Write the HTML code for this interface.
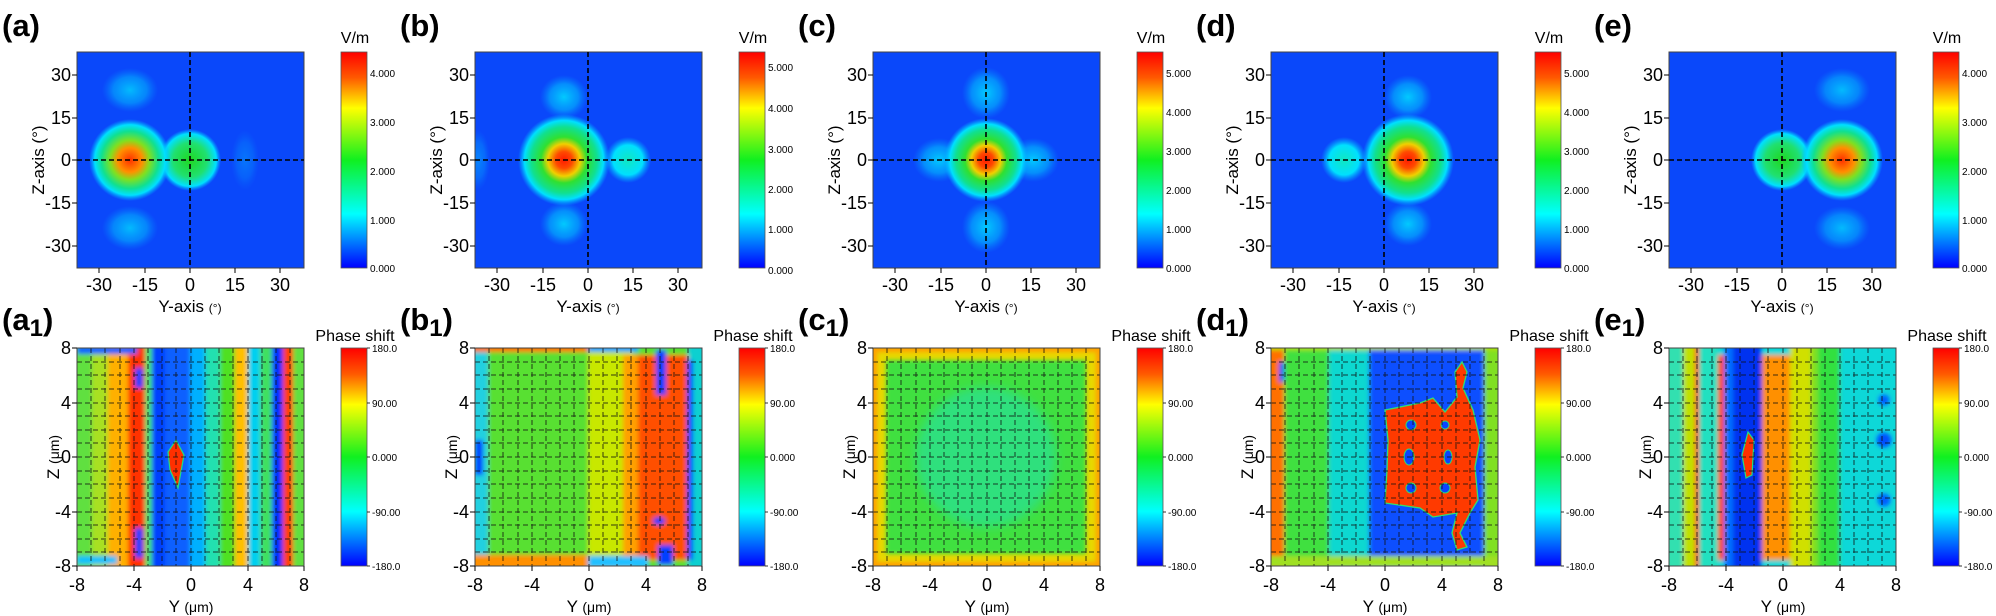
<!DOCTYPE html>
<html><head><meta charset="utf-8"><style>
html,body{margin:0;padding:0;background:#fff}
svg{display:block}
text{font-family:"Liberation Sans",Arial,sans-serif;fill:#000}
</style></head><body>
<svg width="1996" height="616" viewBox="0 0 1996 616" xmlns="http://www.w3.org/2000/svg">
<defs>
<linearGradient id="jet" x1="0" y1="0" x2="0" y2="1">
<stop offset="0" stop-color="#ff0000"/><stop offset=".12" stop-color="#ff5a00"/><stop offset=".26" stop-color="#ffff00"/><stop offset=".5" stop-color="#10f020"/><stop offset=".75" stop-color="#00ffff"/><stop offset="1" stop-color="#0000ff"/>
</linearGradient>
<radialGradient id="hot"><stop offset="0" stop-color="#ff1a00"/><stop offset=".18" stop-color="#ff4a00"/><stop offset=".35" stop-color="#f0d000"/><stop offset=".5" stop-color="#30e030"/><stop offset=".72" stop-color="#10e090"/><stop offset=".86" stop-color="#00e0ff"/><stop offset="1" stop-color="#00b0ff" stop-opacity="0"/></radialGradient>
<radialGradient id="hot2"><stop offset="0" stop-color="#ff3000"/><stop offset=".3" stop-color="#ff9000"/><stop offset=".48" stop-color="#80e020"/><stop offset=".7" stop-color="#10e090"/><stop offset=".86" stop-color="#00e0ff"/><stop offset="1" stop-color="#00b0ff" stop-opacity="0"/></radialGradient>
<radialGradient id="grn"><stop offset="0" stop-color="#20d820"/><stop offset=".55" stop-color="#20e070"/><stop offset=".85" stop-color="#00e0ff"/><stop offset="1" stop-color="#00b0ff" stop-opacity="0"/></radialGradient>
<radialGradient id="cyn"><stop offset="0" stop-color="#00e8ff" stop-opacity=".95"/><stop offset=".6" stop-color="#00d0ff" stop-opacity=".6"/><stop offset="1" stop-color="#00a0ff" stop-opacity="0"/></radialGradient>
<radialGradient id="cyn2"><stop offset="0" stop-color="#10e8c0"/><stop offset=".65" stop-color="#00e0ff"/><stop offset="1" stop-color="#00b0ff" stop-opacity="0"/></radialGradient>
<clipPath id="ct"><rect x="77" y="52" width="227" height="216"/></clipPath>
<clipPath id="cb"><rect x="77" y="348" width="227" height="218"/></clipPath>
<filter id="bl" x="-10%" y="-10%" width="120%" height="120%"><feGaussianBlur stdDeviation="2.2"/></filter>
<filter id="bl2" x="-20%" y="-20%" width="140%" height="140%"><feGaussianBlur stdDeviation="5"/></filter>

<g id="topax">
<rect x="77" y="52" width="227" height="216" fill="none" stroke="#444" stroke-width="1"/>
<line x1="190" y1="52" x2="190" y2="268" stroke="#000" stroke-width="1.6" stroke-dasharray="5,3"/>
<line x1="77" y1="160" x2="304" y2="160" stroke="#000" stroke-width="1.6" stroke-dasharray="5,3"/>
<g stroke="#000" stroke-width="1">
<line x1="99" y1="268" x2="99" y2="273"/><line x1="145" y1="268" x2="145" y2="273"/><line x1="190" y1="268" x2="190" y2="273"/><line x1="235" y1="268" x2="235" y2="273"/><line x1="280" y1="268" x2="280" y2="273"/>
<line x1="77" y1="75" x2="72" y2="75"/><line x1="77" y1="118" x2="72" y2="118"/><line x1="77" y1="160" x2="72" y2="160"/><line x1="77" y1="203" x2="72" y2="203"/><line x1="77" y1="246" x2="72" y2="246"/>
</g>
<g font-size="18" text-anchor="middle">
<text x="99" y="291">-30</text><text x="145" y="291">-15</text><text x="190" y="291">0</text><text x="235" y="291">15</text><text x="280" y="291">30</text>
</g>
<g font-size="18" text-anchor="end">
<text x="71" y="81">30</text><text x="71" y="124">15</text><text x="71" y="166">0</text><text x="71" y="209">-15</text><text x="71" y="252">-30</text>
</g>
<text x="190" y="312" font-size="17" text-anchor="middle">Y-axis <tspan font-size="12">(°)</tspan></text>
<text transform="translate(44,160) rotate(-90)" font-size="17" text-anchor="middle">Z-axis (°)</text>
<rect x="341" y="52" width="26" height="216" fill="url(#jet)" stroke="#555" stroke-width=".8"/>
<text x="355" y="43" font-size="16" text-anchor="middle">V/m</text>
</g>

<g id="grid">
<g stroke="#111" stroke-width="1" stroke-dasharray="5,3" opacity=".8">
<line x1="91" y1="348" x2="91" y2="566"/><line x1="105" y1="348" x2="105" y2="566"/><line x1="120" y1="348" x2="120" y2="566"/><line x1="134" y1="348" x2="134" y2="566"/><line x1="148" y1="348" x2="148" y2="566"/><line x1="162" y1="348" x2="162" y2="566"/><line x1="176" y1="348" x2="176" y2="566"/><line x1="191" y1="348" x2="191" y2="566"/><line x1="205" y1="348" x2="205" y2="566"/><line x1="219" y1="348" x2="219" y2="566"/><line x1="233" y1="348" x2="233" y2="566"/><line x1="248" y1="348" x2="248" y2="566"/><line x1="262" y1="348" x2="262" y2="566"/><line x1="276" y1="348" x2="276" y2="566"/><line x1="290" y1="348" x2="290" y2="566"/>
<line x1="77" y1="362" x2="304" y2="362"/><line x1="77" y1="375" x2="304" y2="375"/><line x1="77" y1="389" x2="304" y2="389"/><line x1="77" y1="403" x2="304" y2="403"/><line x1="77" y1="416" x2="304" y2="416"/><line x1="77" y1="430" x2="304" y2="430"/><line x1="77" y1="443" x2="304" y2="443"/><line x1="77" y1="457" x2="304" y2="457"/><line x1="77" y1="471" x2="304" y2="471"/><line x1="77" y1="484" x2="304" y2="484"/><line x1="77" y1="498" x2="304" y2="498"/><line x1="77" y1="512" x2="304" y2="512"/><line x1="77" y1="525" x2="304" y2="525"/><line x1="77" y1="539" x2="304" y2="539"/><line x1="77" y1="552" x2="304" y2="552"/>
</g>
<rect x="77" y="348" width="227" height="218" fill="none" stroke="#444" stroke-width="1"/>
<g stroke="#000" stroke-width="1">
<line x1="77" y1="566" x2="77" y2="571"/><line x1="134" y1="566" x2="134" y2="571"/><line x1="191" y1="566" x2="191" y2="571"/><line x1="248" y1="566" x2="248" y2="571"/><line x1="304" y1="566" x2="304" y2="571"/>
<line x1="77" y1="348" x2="72" y2="348"/><line x1="77" y1="403" x2="72" y2="403"/><line x1="77" y1="457" x2="72" y2="457"/><line x1="77" y1="512" x2="72" y2="512"/><line x1="77" y1="566" x2="72" y2="566"/>
</g>
<g font-size="18" text-anchor="middle">
<text x="77" y="591">-8</text><text x="134" y="591">-4</text><text x="191" y="591">0</text><text x="248" y="591">4</text><text x="304" y="591">8</text>
</g>
<g font-size="18" text-anchor="end">
<text x="71" y="354">8</text><text x="71" y="409">4</text><text x="71" y="463">0</text><text x="71" y="518">-4</text><text x="71" y="572">-8</text>
</g>
<text x="191" y="612" font-size="17" text-anchor="middle">Y <tspan font-size="14">(μm)</tspan></text>
<text transform="translate(59,457) rotate(-90)" font-size="17" text-anchor="middle">Z <tspan font-size="14">(μm)</tspan></text>
<rect x="341" y="348" width="26" height="218" fill="url(#jet)" stroke="#555" stroke-width=".8"/>
<text x="355" y="341" font-size="16" text-anchor="middle">Phase shift</text>
<g stroke="#000" stroke-width=".8"><line x1="367" y1="348" x2="370" y2="348"/><line x1="367" y1="403" x2="370" y2="403"/><line x1="367" y1="457" x2="370" y2="457"/><line x1="367" y1="512" x2="370" y2="512"/><line x1="367" y1="566" x2="370" y2="566"/></g>
<g font-size="10"><text x="372" y="352">180.0</text><text x="372" y="407">90.00</text><text x="372" y="461">0.000</text><text x="372" y="516">-90.00</text><text x="372" y="570">-180.0</text></g>
</g>
</defs>

<!-- ========== PANEL A ========== -->
<g>
<text x="2" y="36" font-size="31" font-weight="bold">(a)</text>
<g clip-path="url(#ct)"><rect x="77" y="52" width="227" height="216" fill="#0a48fa"/>
<ellipse cx="130" cy="90" rx="28" ry="22" fill="url(#cyn)" opacity=".75"/><ellipse cx="130" cy="228" rx="28" ry="22" fill="url(#cyn)" opacity=".75"/>
<ellipse cx="245" cy="160" rx="14" ry="30" fill="url(#cyn)" opacity=".3"/>
<circle cx="190" cy="160" r="31" fill="url(#grn)"/>
<circle cx="130" cy="160" r="41" fill="url(#hot2)"/></g>
<use href="#topax"/>
<g font-size="10"><text x="370" y="77">4.000</text><text x="370" y="126">3.000</text><text x="370" y="175">2.000</text><text x="370" y="224">1.000</text><text x="370" y="272">0.000</text></g>
<text x="2" y="330" font-size="31" font-weight="bold">(a<tspan font-size="24" dy="6">1</tspan><tspan dy="-6">)</tspan></text>
<g clip-path="url(#cb)"><g filter="url(#bl)">
<rect x="70" y="340" width="240" height="235" fill="#60e040"/>
<rect x="92" y="340" width="16" height="235" fill="#a8e020"/><rect x="108" y="340" width="20" height="235" fill="#ffb000"/><rect x="128" y="340" width="17" height="235" fill="#ff3000"/><rect x="145" y="340" width="7" height="235" fill="#40e070"/><rect x="152" y="340" width="13" height="235" fill="#0040ff"/><rect x="165" y="340" width="25" height="235" fill="#0a60ff"/><rect x="190" y="340" width="15" height="235" fill="#00b0ff"/><rect x="205" y="340" width="15" height="235" fill="#20e0b0"/><rect x="220" y="340" width="15" height="235" fill="#50e020"/><rect x="235" y="340" width="13" height="235" fill="#ffc000"/><rect x="248" y="340" width="12" height="235" fill="#00d0f0"/><rect x="260" y="340" width="12" height="235" fill="#40e060"/><rect x="272" y="340" width="11" height="235" fill="#0030ff"/><rect x="283" y="340" width="10" height="235" fill="#ff4000"/>
<rect x="135" y="368" width="8" height="20" fill="#0040ff"/><rect x="135" y="528" width="8" height="30" fill="#0040ff"/>
<rect x="77" y="346" width="60" height="8" fill="#0060ff"/><rect x="77" y="556" width="40" height="8" fill="#00c0ff"/></g>
<polygon points="176,440 184,455 178,488 170,470 168,452" fill="#ff3000" stroke="#20e080" stroke-width="1.2"/></g>
<use href="#grid"/>
</g>

<!-- ========== PANEL B ========== -->
<g transform="translate(398,0)">
<text x="2" y="36" font-size="31" font-weight="bold">(b)</text>
<g clip-path="url(#ct)"><rect x="77" y="52" width="227" height="216" fill="#0a48fa"/>
<ellipse cx="166" cy="97" rx="24" ry="22" fill="url(#cyn)" opacity=".85"/><ellipse cx="166" cy="224" rx="24" ry="22" fill="url(#cyn)" opacity=".85"/>
<ellipse cx="80" cy="160" rx="12" ry="30" fill="url(#cyn)" opacity=".4"/>
<circle cx="230" cy="160" r="23" fill="url(#cyn2)"/>
<circle cx="166" cy="160" r="46" fill="url(#hot)"/></g>
<use href="#topax"/>
<g font-size="10"><text x="370" y="71">5.000</text><text x="370" y="112">4.000</text><text x="370" y="153">3.000</text><text x="370" y="193">2.000</text><text x="370" y="233">1.000</text><text x="370" y="274">0.000</text></g>
<text x="2" y="330" font-size="31" font-weight="bold">(b<tspan font-size="24" dy="6">1</tspan><tspan dy="-6">)</tspan></text>
<g clip-path="url(#cb)"><g filter="url(#bl)">
<rect x="70" y="340" width="240" height="235" fill="#58e030"/>
<rect x="70" y="340" width="20" height="235" fill="#20d0e0"/><rect x="77" y="440" width="8" height="35" fill="#0040ff"/>
<rect x="190" y="340" width="45" height="235" fill="#c8e800"/><rect x="225" y="355" width="15" height="210" fill="#ffa000"/>
<rect x="240" y="355" width="52" height="205" fill="#ff5000"/><rect x="290" y="340" width="20" height="235" fill="#10d0d0"/><rect x="289" y="360" width="6" height="200" fill="#0040ff"/>
<rect x="70" y="340" width="120" height="12" fill="#ff7000"/><rect x="70" y="555" width="120" height="15" fill="#ff9000"/>
<rect x="190" y="340" width="50" height="12" fill="#00a0ff"/><rect x="190" y="556" width="60" height="12" fill="#20c0ff"/>
<rect x="258" y="350" width="10" height="45" fill="#0040ff"/><ellipse cx="261" cy="521" rx="6" ry="4" fill="#0040ff"/><rect x="260" y="545" width="15" height="20" fill="#0040ff"/></g></g>
<use href="#grid"/>
</g>

<!-- ========== PANEL C ========== -->
<g transform="translate(796,0)">
<text x="2" y="36" font-size="31" font-weight="bold">(c)</text>
<g clip-path="url(#ct)"><rect x="77" y="52" width="227" height="216" fill="#0a48fa"/>
<ellipse cx="190" cy="93" rx="24" ry="26" fill="url(#cyn)" opacity=".85"/><ellipse cx="190" cy="227" rx="24" ry="26" fill="url(#cyn)" opacity=".85"/>
<ellipse cx="143" cy="160" rx="26" ry="22" fill="url(#cyn)" opacity=".85"/><ellipse cx="237" cy="160" rx="26" ry="22" fill="url(#cyn)" opacity=".85"/>
<circle cx="190" cy="160" r="42" fill="url(#hot)"/></g>
<use href="#topax"/>
<g font-size="10"><text x="370" y="77">5.000</text><text x="370" y="116">4.000</text><text x="370" y="155">3.000</text><text x="370" y="194">2.000</text><text x="370" y="233">1.000</text><text x="370" y="272">0.000</text></g>
<text x="2" y="330" font-size="31" font-weight="bold">(c<tspan font-size="24" dy="6">1</tspan><tspan dy="-6">)</tspan></text>
<g clip-path="url(#cb)">
<rect x="70" y="340" width="240" height="235" fill="#e8d800"/>
<rect x="77" y="348" width="227" height="218" fill="none" stroke="#ffa000" stroke-width="8" filter="url(#bl)"/>
<rect x="90" y="360" width="200" height="194" fill="#40e040" filter="url(#bl)"/>
<ellipse cx="190" cy="457" rx="70" ry="70" fill="#20e0b0" opacity=".55" filter="url(#bl2)"/></g>
<use href="#grid"/>
</g>

<!-- ========== PANEL D ========== -->
<g transform="translate(1194,0)">
<text x="2" y="36" font-size="31" font-weight="bold">(d)</text>
<g clip-path="url(#ct)"><rect x="77" y="52" width="227" height="216" fill="#0a48fa"/>
<ellipse cx="214" cy="97" rx="24" ry="22" fill="url(#cyn)" opacity=".85"/><ellipse cx="214" cy="224" rx="24" ry="22" fill="url(#cyn)" opacity=".85"/>
<circle cx="150" cy="160" r="23" fill="url(#cyn2)"/>
<circle cx="214" cy="160" r="46" fill="url(#hot)"/></g>
<use href="#topax"/>
<g font-size="10"><text x="370" y="77">5.000</text><text x="370" y="116">4.000</text><text x="370" y="155">3.000</text><text x="370" y="194">2.000</text><text x="370" y="233">1.000</text><text x="370" y="272">0.000</text></g>
<text x="2" y="330" font-size="31" font-weight="bold">(d<tspan font-size="24" dy="6">1</tspan><tspan dy="-6">)</tspan></text>
<g clip-path="url(#cb)"><g filter="url(#bl)">
<rect x="70" y="340" width="240" height="235" fill="#30c8ff"/>
<rect x="70" y="340" width="20" height="235" fill="#ff7000"/><rect x="90" y="340" width="45" height="235" fill="#40e040"/><rect x="135" y="340" width="40" height="235" fill="#10d8d0"/>
<rect x="175" y="350" width="115" height="210" fill="#1050ff"/><rect x="290" y="340" width="20" height="235" fill="#80e020"/>
<rect x="70" y="340" width="240" height="10" fill="#b0e000"/><rect x="70" y="556" width="240" height="12" fill="#a0e020"/>
<rect x="85" y="362" width="5" height="20" fill="#0050ff"/></g>
<polygon points="191,410 226,403 239,398 251,412 263,397 261,372 268,362 273,372 269,388 279,410 286,440 281,467 284,500 276,513 266,533 273,547 263,550 258,533 263,513 239,517 226,508 191,503 193,470 194,440" fill="#ff3a00" stroke="#30e070" stroke-width="1.3"/>
<g fill="#0a44ff" stroke="#30e070" stroke-width="1"><circle cx="217" cy="425" r="5"/><circle cx="251" cy="425" r="4"/><ellipse cx="215" cy="457" rx="5" ry="8"/><ellipse cx="254" cy="457" rx="4" ry="7"/><circle cx="217" cy="488" r="5"/><circle cx="251" cy="488" r="5"/></g></g>
<use href="#grid"/>
</g>

<!-- ========== PANEL E ========== -->
<g transform="translate(1592,0)">
<text x="2" y="36" font-size="31" font-weight="bold">(e)</text>
<g clip-path="url(#ct)"><rect x="77" y="52" width="227" height="216" fill="#0a48fa"/>
<ellipse cx="250" cy="90" rx="28" ry="22" fill="url(#cyn)" opacity=".75"/><ellipse cx="250" cy="228" rx="28" ry="22" fill="url(#cyn)" opacity=".75"/>
<circle cx="190" cy="160" r="31" fill="url(#grn)"/>
<circle cx="250" cy="160" r="41" fill="url(#hot2)"/></g>
<use href="#topax"/>
<g font-size="10"><text x="370" y="77">4.000</text><text x="370" y="126">3.000</text><text x="370" y="175">2.000</text><text x="370" y="224">1.000</text><text x="370" y="272">0.000</text></g>
<text x="2" y="330" font-size="31" font-weight="bold">(e<tspan font-size="24" dy="6">1</tspan><tspan dy="-6">)</tspan></text>
<g clip-path="url(#cb)"><g filter="url(#bl)">
<rect x="70" y="340" width="240" height="235" fill="#10d8d8"/>
<rect x="70" y="340" width="21" height="235" fill="#30e0b0"/><rect x="91" y="340" width="12" height="235" fill="#c0e000"/><rect x="103" y="340" width="4" height="235" fill="#ff3000"/><rect x="107" y="340" width="19" height="235" fill="#20e0c0"/><rect x="126" y="355" width="6" height="205" fill="#ff4000"/><rect x="132" y="340" width="9" height="235" fill="#0070ff"/><rect x="141" y="340" width="29" height="235" fill="#0030f0"/><rect x="170" y="355" width="28" height="205" fill="#ff9000"/><rect x="198" y="340" width="21" height="235" fill="#d0e000"/><rect x="219" y="340" width="7" height="235" fill="#80e020"/><rect x="226" y="340" width="22" height="235" fill="#30e040"/>
<circle cx="292" cy="440" r="8" fill="#0050ff"/><circle cx="292" cy="400" r="6" fill="#0060ff"/><circle cx="292" cy="500" r="7" fill="#0060ff"/></g>
<polygon points="156,432 162,440 160,475 154,478 150,455" fill="#ff3000" stroke="#20e080" stroke-width="1.2"/></g>
<use href="#grid"/>
</g>
</svg>
</body></html>
